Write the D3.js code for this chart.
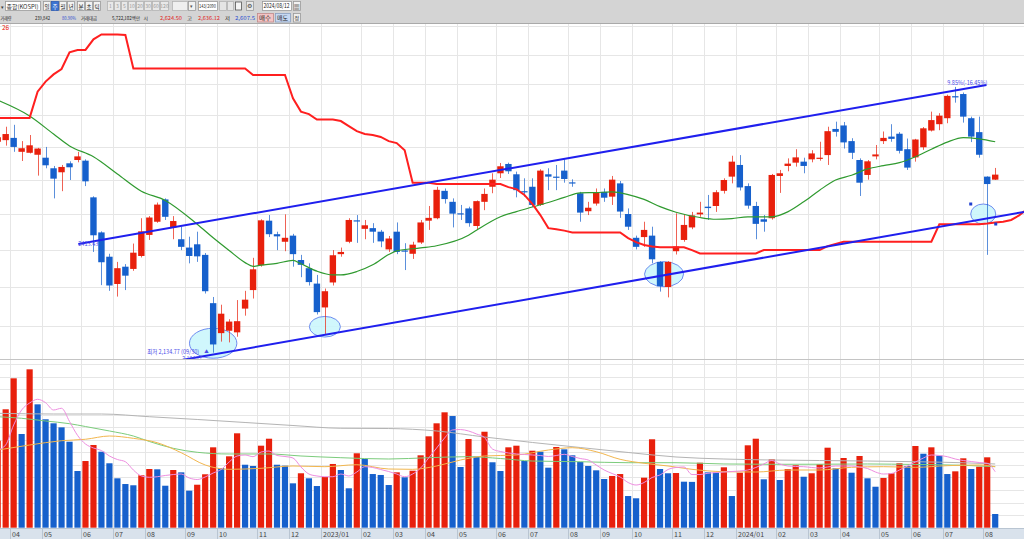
<!DOCTYPE html>
<html>
<head>
<meta charset="utf-8">
<script src="https://cdn.jsdelivr.net/npm/d3@7"></script>
<style>
body { margin: 0; background: #fff; overflow: hidden; }
svg { display: block; font-family: "Noto Sans CJK KR", "Noto Sans", sans-serif; }
</style>
</head>
<body>
<svg id="chart" width="1024" height="539"></svg>
<script>
/* KOSPI weekly candles, 2022/03/21 ~ 2024/08/12 */
var weeks = d3.timeMonday.range(new Date(2022, 2, 21), new Date(2024, 7, 13));

var open = [2716,2721,2728,2685,2682,2676,2667,2635,2623,2650,2660,2658,2549,2449,2382,2309,2355,2349,2384,2442,
    2479,2543,2463,2430,2407,2416,2387,2259,2183,2189,2185,2245,2293,2359,2482,2444,2423,2440,2373,2351,
    2310,2248,2313,2389,2423,2483,2459,2461,2451,2402,2451,2399,2390,2421,2482,2489,2568,2536,2503,2517,
    2467,2536,2580,2620,2648,2617,2567,2580,2527,2617,2610,2628,2593,2561,2509,2531,2565,2551,2590,2501,
    2434,2436,2440,2368,2301,2397,2428,2463,2500,2522,2524,2568,2610,2645,2582,2524,2486,2489,2612,2642,
    2652,2655,2662,2664,2675,2756,2767,2718,2660,2615,2671,2718,2732,2741,2693,2668,2699,2751,2771,2790,
    2861,2868,2790,2746,2610,2601];
var high = [2740,2763,2769,2718,2737,2697,2700,2642,2645,2656,2685,2662,2552,2452,2390,2368,2362,2418,2489,2495,
    2534,2546,2495,2465,2437,2451,2392,2275,2255,2218,2267,2291,2379,2486,2498,2451,2500,2445,2387,2364,
    2333,2297,2400,2407,2489,2498,2484,2475,2456,2439,2477,2419,2423,2484,2524,2580,2575,2546,2527,2522,
    2540,2575,2620,2651,2652,2625,2605,2605,2632,2635,2645,2662,2602,2565,2536,2575,2575,2612,2597,2517,
    2440,2479,2465,2370,2370,2503,2501,2507,2536,2556,2570,2605,2673,2675,2590,2536,2498,2618,2630,2665,
    2693,2667,2690,2716,2763,2779,2778,2727,2665,2660,2706,2748,2771,2746,2726,2725,2762,2811,2806,2866,
    2891.35,2873,2795,2795,2611,2636];
var low = [2705,2704,2685,2657,2680,2613,2635,2546,2567,2600,2653,2582,2395,2306,2291,2276,2293,2344,2380,2428,
    2476,2484,2430,2400,2364,2368,2284,2134.77,2162,2160,2174,2227,2271,2355,2436,2400,2397,2355,2327,2305,
    2230,2181,2305,2382,2419,2420,2430,2420,2408,2395,2389,2346,2376,2417,2456,2486,2531,2463,2484,2465,
    2456,2512,2561,2606,2618,2549,2551,2521,2524,2570,2570,2592,2580,2479,2498,2525,2536,2527,2490,2456,
    2402,2409,2364,2289,2274,2388,2423,2458,2493,2484,2507,2560,2590,2569,2516,2430,2451,2485,2562,2626,
    2640,2620,2653,2658,2645,2732,2695,2663,2553,2601,2662,2709,2716,2680,2630,2655,2691,2748,2752,2774,
    2840,2776,2715,2667,2387,2600];
var close = [2730,2740,2700,2696,2705,2695,2644,2604,2639,2638,2671,2596,2441,2367,2305,2351,2331,2393,2452,2491,
    2528,2493,2481,2409,2384,2383,2290,2155,2232,2212,2213,2268,2348,2483,2444,2438,2434,2389,2360,2314,
    2236,2290,2386,2395,2484,2480,2469,2451,2424,2432,2395,2396,2415,2477,2490,2571,2544,2502,2501,2475,
    2538,2559,2601,2641,2626,2570,2564,2527,2628,2610,2608,2603,2591,2505,2519,2564,2548,2601,2508,2465,
    2409,2456,2375,2303,2368,2410,2470,2497,2505,2518,2564,2600,2655,2578,2525,2473,2479,2615,2620,2649,
    2668,2642,2680,2667,2749,2747,2714,2682,2592,2656,2677,2728,2725,2688,2637,2723,2758,2784,2798,2862,
    2857,2795,2732,2676,2588,2616];

// weekly volume, million shares
var volume = [1384,1884,2377,1491,2520,1963,1725,1661,1597,1368,902,1061,1316,1209,1025,786,695,675,834,934,
    929,668,918,881,589,684,850,1279,950,1136,1502,1002,982,1305,1416,1002,987,706,866,786,
    663,807,1014,918,627,1184,1093,854,839,679,881,802,907,1152,1454,1661,1836,1777,966,1411,
    1130,1527,1041,902,1279,1305,1061,1225,1209,955,1284,1247,1152,1045,982,913,775,823,854,504,
    468,796,1407,934,866,870,732,729,1034,881,878,961,504,875,1311,1416,770,1088,759,934,
    993,811,866,1009,1273,945,1109,875,1141,786,652,791,866,1025,982,1300,1177,1279,1146,854,
    897,1104,934,971,1120,218];
var volumeBefore = 1150;

// 20-week moving average of close
var maPriceAt = [0,4,7,9,12,15,18,21,25,27,29,31,32,33,35,37,38,40,42,43,45,47,49,50,53,55,59,60,63,65,67,69,71,73,75,
    77,79,81,83,85,88,90,92,94,97,99,101,103,105,107,109,111,113,115,117,119,121,123,125];
var maPrice = [2848,2797,2740,2703,2670,2618,2567,2540,2472,2434,2399,2366,2356,2359,2364,2372,2363,2343,2333,2333,
    2342,2360,2388,2398,2406,2412,2441,2455,2493,2508,2521,2534,2549,2562,2563,2565,2557,2543,2522,2506,
    2491,2486,2488,2493,2493,2507,2536,2570,2600,2614,2633,2643,2652,2670,2693,2715,2729,2725,2716];

// red leading span (26), one value per week, runs 4 weeks past the last candle
var spanB = [2791,2791,2791,2791,2791,2876,2909,2933,2951,3008,3016,3016,3053,3070,3070,3070,3068,
    2953,2953,2953,2953,2953,2953,2953,2953,2953,2953,2953,2953,2953,2953,2953,
    2931,2931,2931,2931,2931,2854,2811,2803,2786,2786,2786,2781,2765,2749,2740,2737,2731,2718,2712,2690,
    2592,2592,2592,2588,2588,2588,2588,2588,2588,2588,2588,2588,2579,2573,2556,2530,2498,2461,2458,2454,
    2449,2449,2449,2449,2449,2449,2449,2433,2422,2414,2410,2408,2408,2408,2408,2400,
    2391,2391,2391,2391,2391,2391,2391,2391,2400,2400,2400,2400,2400,2400,2400,2400,2411,2417,
    2423,2423,2423,2423,2423,2423,2423,2423,2423,2423,2423,2423,2472,2472,2472,2472,2472,2472,2474,2477,
    2479,2484,2497,2515];

// volume moving averages
var volMa5 = [1236,1316,1634,1873,1984,2043,1989,1873,1900,1690,1470,1332,1268,1228,1141,1085,1050,918,823,802,
    811,831,846,854,791,767,807,870,926,1045,1141,1157,1130,1204,1220,1149,1133,1109,966,854,
    823,811,811,854,823,886,971,958,926,894,854,811,854,950,1109,1268,1427,1555,1562,1539,
    1491,1435,1252,1212,1189,1173,1165,1157,1149,1133,1149,1168,1133,1101,1077,998,918,862,807,719,
    679,719,799,839,926,958,966,846,846,866,878,886,894,902,918,958,1014,1069,1014,982,
    974,971,958,950,966,982,982,982,966,942,886,854,862,918,982,1045,1109,1157,1149,1130,
    1093,1069,1053,1037,1025,891];
var volMa20At = [0,4,8,11,14,17,20,23,26,29,33,37,41,45,49,52,55,58,61,65,69,72,75,78,81,84,87,91,95,99,103,107,111,115,119,123,125];
var volMa20 = [1236,1316,1384,1407,1459,1422,1352,1193,998,929,945,982,971,1002,934,929,982,1077,1141,1157,
    1236,1273,1209,1088,1025,982,929,891,886,918,918,961,971,961,987,998,971];
var volMa60At = [0,3,6,9,11,14,17,19,22,25,29,34,38,43,49,54,59,63,67,73,79,85,91,97,103,109,115,121,125];
var volMa60 = [1766,1741,1698,1655,1610,1539,1459,1372,1263,1200,1173,1173,1141,1114,1093,1114,1130,1101,1061,1050,
    1034,1034,1014,1009,1010,1014,1006,993,971];
var volMa120At = [0,7,13,19,25,31,37,43,49,55,61,67,73,79,85,91,97,103,109,115,121,125];
var volMa120 = [1820,1809,1809,1766,1722,1674,1626,1582,1578,1539,1443,1356,1276,1197,1125,1093,1077,1069,1061,1050,1033,1014];

// drawn objects: trend channel and marked lows
var channelUpper = [[10.1, 2417], [123.9, 2898]];
var channelLower = [[23.06, 2117], [128.6, 2507]];
var marks = [[27, 2158, 23.7, 15], [41, 2199, 15.5, 10.3], [83.5, 2335, 19.5, 12.5], [123.5, 2501, 12.5, 10]];

var RED = "#e8200c", BLUE = "#1660cc";

var svg = d3.select("#chart");
var x = d3.scaleLinear().domain([0, 125]).range([-2.3, 995.2]);
var y = d3.scaleLog().domain([2100, 3100]).range([367.1, 25.9]);
var yv = d3.scaleLinear().domain([0, 2600]).range([527.7, 364.3]);
var idx = d3.range(weeks.length);

svg.append("rect").attr("width", 1024).attr("height", 539).attr("fill", "#fff");

var defs = svg.append("defs");
defs.append("clipPath").attr("id", "clipP").append("rect")
    .attr("x", 0).attr("y", 24).attr("width", 1024).attr("height", 335);
defs.append("clipPath").attr("id", "clipV").append("rect")
    .attr("x", 0).attr("y", 361).attr("width", 1024).attr("height", 167);

/* grid */
var grid = svg.append("g").attr("stroke", "#e6e6e6").attr("stroke-width", 1);
grid.selectAll(".hp").data(d3.range(2200, 3101, 100)).join("line")
    .attr("x1", 0).attr("x2", 1024)
    .attr("y1", d => Math.round(y(d)) + 0.5).attr("y2", d => Math.round(y(d)) + 0.5);
grid.selectAll(".hv").data(d3.range(200, 2601, 200)).join("line")
    .attr("x1", 0).attr("x2", 1024)
    .attr("y1", d => Math.round(yv(d)) + 0.5).attr("y2", d => Math.round(yv(d)) + 0.5);

var monthStarts = idx.filter(i => i > 0 && weeks[i].getMonth() != weeks[i - 1].getMonth());
var gx = i => Math.round(x(i) - 4) + 0.5;
grid.selectAll(".vm").data(monthStarts).join("line")
    .attr("x1", gx).attr("x2", gx).attr("y1", 24).attr("y2", 539);

// panel separator
svg.append("line").attr("x1", 0).attr("x2", 1024).attr("y1", 359.5).attr("y2", 359.5)
    .attr("stroke", "#c4c4c4");

/* volume */
var vg = svg.append("g").attr("clip-path", "url(#clipV)");
vg.selectAll("rect").data(idx).join("rect")
    .attr("x", i => x(i) - 3.1).attr("width", 6.2)
    .attr("y", i => yv(volume[i])).attr("height", i => yv(0) - yv(volume[i]))
    .attr("fill", i => volume[i] > (i > 0 ? volume[i - 1] : volumeBefore) ? RED : BLUE);

function sampled(at, vals) { return at.map((a, j) => [a, vals[j]]); }
var vline = d3.line().x(d => x(d[0])).y(d => yv(d[1])).curve(d3.curveMonotoneX);
[[sampled(volMa120At, volMa120), "#b4b4b4"],
 [sampled(volMa60At, volMa60), "#7ccc7c"],
 [sampled(volMa20At, volMa20), "#f2b64e"],
 [volMa5.map((v, i) => [i, v]), "#ee8ee0"]].forEach(function(s) {
    vg.append("path").attr("d", vline(s[0])).attr("fill", "none")
        .attr("stroke", s[1]).attr("stroke-width", 1);
});

/* price */
var pg = svg.append("g").attr("clip-path", "url(#clipP)");

// marked lows (drawn under the candles)
pg.selectAll("ellipse").data(marks).join("ellipse")
    .attr("cx", d => x(d[0])).attr("cy", d => y(d[1]))
    .attr("rx", d => d[2]).attr("ry", d => d[3])
    .attr("fill", "#c8f6fb").attr("fill-opacity", 0.85)
    .attr("stroke", "#6e8cf0").attr("stroke-width", 1);

var up = i => close[i] >= open[i];
pg.selectAll("line.wick").data(idx).join("line").attr("class", "wick")
    .attr("x1", i => Math.round(x(i)) + 0.5).attr("x2", i => Math.round(x(i)) + 0.5)
    .attr("y1", i => y(high[i])).attr("y2", i => y(low[i]))
    .attr("stroke", i => up(i) ? RED : BLUE).attr("stroke-opacity", 0.7);
pg.selectAll("rect.body").data(idx).join("rect").attr("class", "body")
    .attr("x", i => x(i) - 3.2).attr("width", 6.4)
    .attr("y", i => y(Math.max(open[i], close[i])))
    .attr("height", i => Math.max(1.2, y(Math.min(open[i], close[i])) - y(Math.max(open[i], close[i]))))
    .attr("fill", i => up(i) ? RED : BLUE);

var pline = d3.line().x(d => x(d[0])).y(d => y(d[1]));
pg.append("path")
    .attr("d", pline.curve(d3.curveMonotoneX)(sampled(maPriceAt, maPrice)))
    .attr("fill", "none").attr("stroke", "#2f9a2f").attr("stroke-width", 1.2);
pg.append("path")
    .attr("d", d3.line().x(d => x(d[0])).y(d => y(d[1]))(spanB.map((v, i) => [i, v])))
    .attr("fill", "none").attr("stroke", "#ff1f1f").attr("stroke-width", 2);

var straight = d3.line().x(d => x(d[0])).y(d => y(d[1]));
[channelUpper, channelLower].forEach(function(c) {
    pg.append("path").attr("d", straight(c)).attr("fill", "none")
        .attr("stroke", "#1f1fee").attr("stroke-width", 2);
});

// handles on the last marked ellipse
var lastMark = marks[marks.length - 1];
[[-1, -1], [1, 1]].forEach(function(s) {
    pg.append("rect")
        .attr("x", x(lastMark[0]) + s[0] * lastMark[2] - 1.5)
        .attr("y", y(lastMark[1]) + s[1] * lastMark[3] - 1.5)
        .attr("width", 3).attr("height", 3).attr("fill", "#1f3fd0");
});

// annotations
var ann = pg.append("g").attr("fill", "#4a4ae8").attr("font-size", 6);
function note(nx, ny, s, len) {
    return ann.append("text").attr("x", nx).attr("y", ny)
        .attr("textLength", len).attr("lengthAdjust", "spacingAndGlyphs").text(s);
}
note(x(channelUpper[0][0]), y(channelUpper[0][1]) + 2, "2413.43", 20);
note(x(27) - 66, y(low[27]) + 1.5, "최저 2,134.77 (09/30)", 52);
ann.append("text").attr("x", x(27) - 9).attr("y", y(low[27]) + 0.5).attr("font-size", 4.5).text("▲");
note(x(27) - 31, y(low[27]) + 7.5, "2,134.77", 20).attr("font-size", 5);
note(x(120) - 8, y(high[120]) - 2, "9.85%(-16.45%)", 40);

svg.append("text").attr("x", 2).attr("y", 30).attr("font-size", 6.5).attr("fill", RED).text("26");

/* x axis band */
svg.append("rect").attr("x", 0).attr("y", 528).attr("width", 1024).attr("height", 11).attr("fill", "#d9e2ec");
svg.append("line").attr("x1", 0).attr("x2", 1024).attr("y1", 528.5).attr("y2", 528.5).attr("stroke", "#b9c5d2");
var ax = svg.append("g");
ax.selectAll("line").data(monthStarts).join("line")
    .attr("x1", gx).attr("x2", gx).attr("y1", 528).attr("y2", 539).attr("stroke", "#b9c5d2");
ax.selectAll("text").data(monthStarts).join("text")
    .attr("x", i => gx(i) + 1.5).attr("y", 536.5)
    .attr("font-size", 7).attr("fill", "#444")
    .text(i => d3.timeFormat(weeks[i].getMonth() == 0 ? "%Y/%m" : "%m")(weeks[i]));

/* toolbar */
var tb = svg.append("g").attr("font-size", 6.5);
tb.append("rect").attr("width", 1024).attr("height", 23).attr("fill", "#d4d4d4");
tb.append("line").attr("x1", 0).attr("x2", 1024).attr("y1", 23.5).attr("y2", 23.5).attr("stroke", "#a9a9a9");

function box(bx, by, w, h, fill, stroke) {
    return tb.append("rect").attr("x", bx + 0.5).attr("y", by + 0.5).attr("width", w).attr("height", h)
        .attr("fill", fill).attr("stroke", stroke || "#9a9a9a").attr("stroke-width", 0.8);
}
function txt(tx, ty, s, color, anchor, size, len) {
    var t = tb.append("text").attr("x", tx).attr("y", ty).attr("fill", color || "#222")
        .attr("text-anchor", anchor || "start").attr("font-size", size || 6.5).text(s);
    if (len) t.attr("textLength", len).attr("lengthAdjust", "spacingAndGlyphs");
    return t;
}

txt(0.5, 8.5, "▾", "#333", "start", 5);
box(5, 1, 35, 9, "#fff");
txt(6.5, 8.5, "종합(KOSPI)", "#333", "start", 6, 32);
[["일", 43], ["주", 51], ["월", 59], ["년", 67], ["분", 77], ["초", 85], ["틱", 93]].forEach(function(b) {
    var sel = b[0] == "주";
    box(b[1], 1, 7, 9, sel ? "#3c74d2" : "#f2f2f2", sel ? "#2a5ab0" : "#9a9a9a");
    txt(b[1] + 4, 8.5, b[0], sel ? "#fff" : "#222", "middle", 5.5);
});
[["1", 107, 6], ["3", 114, 6], ["5", 121, 6], ["10", 128, 7], ["20", 136, 7], ["30", 144, 7], ["60", 152, 7], ["120", 160, 8]]
    .forEach(function(b) {
        box(b[1], 1, b[2], 9, "#e8e8e8", "#b4b4b4");
        txt(b[1] + b[2] / 2 + 0.5, 8.3, b[0], "#9a9a9a", "middle", 5);
    });
box(172, 1, 15, 9, "#efefef", "#b4b4b4");
box(188, 1, 7, 9, "#f2f2f2");
txt(191.8, 7.8, "▾", "#555", "middle", 5);
box(198, 1, 19, 9, "#fff");
txt(199, 8.3, "143/2090", "#333", "start", 5.5, 17);
box(219, 1, 7, 9, "#e4e4e4", "#b4b4b4");
box(227, 1, 6, 9, "#e4e4e4", "#b4b4b4");
box(235, 1.5, 6, 8, "#f4f4f4", "#555");
box(246, 1, 7, 9, "#e8e8e8", "#9a9a9a");
txt(249.8, 8.4, "⚙", "#444", "middle", 6);
box(262, 1, 29, 9, "#fff");
txt(263.5, 8.3, "2024/08/12", "#222", "start", 5.8, 26);
box(293, 1, 7, 9, "#f2f2f2");
txt(296.8, 8.5, "▦", "#444", "middle", 6);

txt(0.5, 19.5, "거래량", "#222", "start", 5, 11);
txt(35, 19.5, "239,842", "#222", "start", 5, 15);
txt(62, 19.5, "80.90%", "#2a4fd0", "start", 5, 14);
txt(81, 19.5, "거래대금", "#222", "start", 5, 16);
txt(112, 19.5, "5,722,102백만", "#222", "start", 5, 28);
txt(143.5, 19.5, "시", "#222", "start", 5, 4.5);
txt(160, 19.5, "2,624.50", "#e02020", "start", 5, 22);
txt(187, 19.5, "고", "#222", "start", 5, 5);
txt(198, 19.5, "2,636.12", "#e02020", "start", 5, 22);
txt(225, 19.5, "저", "#222", "start", 5, 5);
txt(235, 19.5, "2,607.5", "#2a4fd0", "start", 5, 20);
box(257, 13, 16, 8.5, "#f3c4c4", "#c08a8a");
txt(259, 19.8, "매수", "#222", "start", 5.5, 12);
box(275, 13, 15, 8.5, "#c6d8f2", "#8aa0c0");
txt(277, 19.8, "매도", "#222", "start", 5.5, 11);
box(293, 13, 7, 8.5, "#eeeeee");
txt(296.8, 19.8, "정", "#222", "middle", 5);
</script>
</body>
</html>
